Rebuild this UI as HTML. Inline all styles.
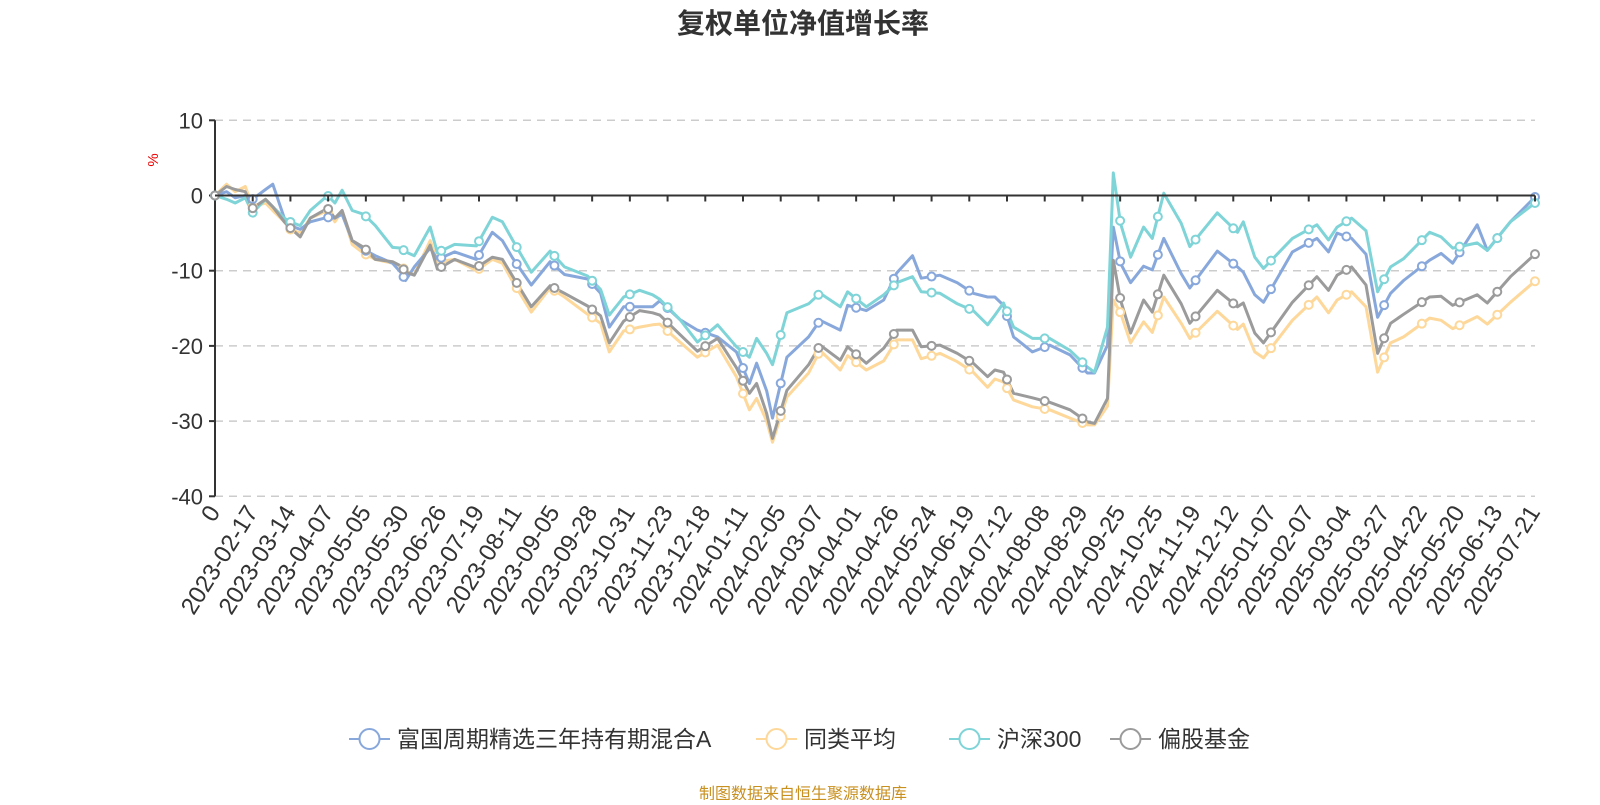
<!DOCTYPE html>
<html><head><meta charset="utf-8">
<style>
body{margin:0;background:#fff;}
svg text{font-family:"Liberation Sans","Noto Sans CJK SC",sans-serif;}
</style></head>
<body>
<svg id="chart" width="1600" height="800" viewBox="0 0 1600 800" xmlns="http://www.w3.org/2000/svg">
<text x="803" y="33" text-anchor="middle" font-size="28" font-weight="bold" fill="#333">复权单位净值增长率</text>
<text x="158" y="160" font-size="15" fill="#e00" text-anchor="middle" transform="rotate(-90 158 160)">%</text>
<g id="grid"></g>
<g id="series"></g>
<g id="xaxis"></g>
<g id="legend"></g>
<text x="803" y="799" text-anchor="middle" font-size="16" fill="#c8901f">制图数据来自恒生聚源数据库</text>
</svg>
<script>
const xLabels=["0","2023-02-17","2023-03-14","2023-04-07","2023-05-05","2023-05-30","2023-06-26","2023-07-19","2023-08-11","2023-09-05","2023-09-28","2023-10-31","2023-11-23","2023-12-18","2024-01-11","2024-02-05","2024-03-07","2024-04-01","2024-04-26","2024-05-24","2024-06-19","2024-07-12","2024-08-08","2024-08-29","2024-09-25","2024-10-25","2024-11-19","2024-12-12","2025-01-07","2025-02-07","2025-03-04","2025-03-27","2025-04-22","2025-05-20","2025-06-13","2025-07-21"];
const yTicks=[10,0,-10,-20,-30,-40];
const days=[0,8,14,21,26,35,40,48,52,59,66,78,83,88,95,103,111,123,129,132,138,149,154,166,181,192,199,206,219,232,242,258,267,273,283,294,303,308,322,334,348,361,370,375,382,386,396,411,419,433,438,451,463,472,483,489,502,514,525,535,540,546,553,566,578,592,604,609,618,622,627,634,643,649,657,669,675,694,708,712,720,726,746,763,771,777,787,797,805,814,823,841,849,857,874,881,897,914];
const fundValues=[0,0.5,-0.3,0,-0.5,0.8,1.5,-3,-4,-4.5,-3.5,-2.9,-3,-2.5,-6,-7.2,-8,-9,-10.3,-11.3,-9.5,-7,-8.5,-7.5,-8.5,-4.9,-6,-8.3,-11.9,-8.8,-10.5,-11.1,-13,-17.5,-14.8,-14.8,-14.8,-14,-16.5,-17.9,-18.8,-20.8,-25,-22.3,-26,-29.6,-21.5,-18.8,-16.6,-17.9,-14.6,-15.3,-13.9,-10.3,-8,-11,-10.6,-11.6,-13,-13.5,-13.5,-14.6,-18.8,-20.8,-19.9,-21.2,-23.6,-23.6,-19.9,-4.2,-9,-11.6,-9.4,-9.9,-5.7,-10.4,-12.3,-7.4,-9.5,-10.2,-13.2,-14.2,-7.5,-5.7,-7.5,-5,-5.7,-7.8,-16.2,-13,-11.3,-8.6,-7.7,-9,-3.9,-7.3,-3.5,-0.2];
const peerValues=[0,1.5,0.5,1.2,-1.5,-1,-2,-3.5,-4.5,-5,-3,-2,-3.5,-2,-6.5,-7.7,-8.5,-9,-9.4,-10,-10.5,-6,-8.8,-8.5,-10,-8.5,-9,-11.4,-15.5,-12.3,-13.5,-15.8,-17,-20.8,-18,-17.5,-17.2,-17.1,-19.5,-21.5,-19.9,-24.1,-28.5,-27,-30,-32.8,-26.8,-23.6,-20.6,-23.2,-21.3,-23.2,-22,-19.2,-19.2,-21.7,-21,-22.1,-23.5,-25.5,-24.4,-24.8,-27.2,-28.1,-28.5,-29.6,-30.5,-30.5,-28,-13.9,-15.6,-19.6,-16.8,-18.2,-13.5,-17,-19,-15.4,-17.8,-17.1,-20.8,-21.6,-16.6,-13.5,-15.6,-13.9,-12.8,-14.8,-23.5,-19.6,-18.8,-16.3,-16.6,-17.7,-16.1,-17.1,-14.2,-11.4];
const hs300Values=[0,-0.5,-1,-0.3,-2.3,-0.5,-1.5,-3,-3.5,-4,-2,0,-1,0.7,-2,-2.5,-4,-6.9,-7,-7.5,-8,-4.2,-7.6,-6.5,-6.7,-2.9,-3.5,-5.9,-10.2,-7.4,-9.5,-10.7,-12.5,-15.9,-13.5,-12.6,-13.2,-13.8,-16.5,-19.5,-17.2,-20.1,-21.5,-19,-21,-22.5,-15.6,-14.4,-13,-14.8,-12.8,-14.8,-13.2,-11.6,-10.8,-12.8,-13,-14.4,-15.3,-17.2,-15.9,-14.3,-17.5,-19,-19,-20.6,-22.8,-23.5,-17.5,3,-3.7,-8.2,-4.2,-5.7,0.3,-3.7,-6.8,-2.3,-4.9,-3.5,-8.2,-9.7,-5.7,-3.9,-5.9,-4.2,-3,-4.7,-12.8,-9.5,-8.4,-4.9,-5.5,-7,-6.3,-7.3,-3.5,-1];
const equityFundValues=[0,1.2,0.8,0.5,-1.7,-0.5,-1.5,-3.5,-4.3,-5.5,-3,-1.7,-3,-2,-6,-6.9,-8.5,-8.8,-9.4,-10.2,-10.6,-6.6,-9.8,-8.5,-9.6,-8.2,-8.5,-10.7,-14.8,-12,-13,-14.7,-16,-19.6,-16.7,-15.3,-15.6,-15.9,-18.5,-20.7,-19,-22.9,-26.3,-25,-29,-32.3,-25.9,-22.5,-19.9,-21.9,-20.1,-22.3,-20.3,-17.9,-17.9,-20.1,-19.9,-21,-22.3,-24.1,-23.2,-23.5,-26.3,-26.9,-27.5,-28.5,-30.1,-30.3,-27,-8.6,-13.9,-18.3,-13.9,-15.5,-10.6,-14.4,-17,-12.6,-14.8,-14.3,-18.3,-19.6,-14.2,-10.8,-12.6,-10.6,-9.5,-11.9,-21,-17,-15.8,-13.5,-13.4,-14.6,-13.2,-14.3,-10.8,-7.8];
const seriesNames=["富国周期精选三年持有期混合A","同类平均","沪深300","偏股基金"];

const NS="http://www.w3.org/2000/svg";
const X0=215,X1=1535,Y_ZERO=195.5,PX_PER_UNIT=7.52;
const totalDays=days[days.length-1];
function xScale(d){return X0+(X1-X0)*d/totalDays;}
function yScale(v){return Y_ZERO-PX_PER_UNIT*v;}
function mk(tag,attrs,parent){const e=document.createElementNS(NS,tag);for(const k in attrs)e.setAttribute(k,attrs[k]);parent.appendChild(e);return e;}

const grid=document.getElementById('grid');
yTicks.forEach(t=>{
  const y=yScale(t);
  if(t!==0){
    const gl=mk('line',{x1:X0,x2:X1,y1:y,y2:y,stroke:'#ccc','stroke-width':1.5,'stroke-dasharray':'8,6'},grid);
    
    
  }
  const tk=mk('line',{x1:X0-6,x2:X0,y1:y,y2:y,stroke:'#333','stroke-width':2},grid);
  
  
  const lb=mk('text',{x:X0-12,y:y+8,'text-anchor':'end','font-size':22,fill:'#333'},grid);
  
  
  lb.textContent=t;
});
const yAxis=mk('line',{x1:X0,x2:X0,y1:yScale(10),y2:yScale(-40),stroke:'#333','stroke-width':2},grid);



const xa=document.getElementById('xaxis');
const zl=mk('line',{x1:X0,x2:X1,y1:yScale(0),y2:yScale(0),stroke:'#333','stroke-width':2},xa);


const step=(X1-X0)/(xLabels.length-1);
xLabels.forEach((l,i)=>{
  const x=X0+i*step;
  if(i>0){
    const t=mk('line',{x1:x,x2:x,y1:yScale(0),y2:yScale(0)+6,stroke:'#333','stroke-width':2},xa);
    
    
  }
  const tx=mk('text',{x:x+6,y:512,'text-anchor':'end','font-size':24,fill:'#333',transform:`rotate(-58 ${x+6} 512)`},xa);
  
  
  tx.textContent=l;
});

const colors=["#88a8dc","#fdd89a","#7fd4d8","#9b9b9b"];
const allSeries=[fundValues,peerValues,hs300Values,equityFundValues];
const sg=document.getElementById('series');
function interp(vals,d){
  for(let i=1;i<days.length;i++){if(d<=days[i]){const f=(d-days[i-1])/(days[i]-days[i-1]);return vals[i-1]+f*(vals[i]-vals[i-1]);}}
  return vals[vals.length-1];
}
[1,0,2,3].forEach(si=>{
  const vals=allSeries[si];
  const pts=vals.map((v,i)=>xScale(days[i]).toFixed(1)+','+yScale(v).toFixed(1)).join(' ');
  const pl=mk('polyline',{points:pts,fill:'none',stroke:colors[si],'stroke-width':3,'stroke-linejoin':'round'},sg);
  
  
});
[1,0,2,3].forEach(si=>{
  const vals=allSeries[si];
  xLabels.forEach((l,i)=>{
    const d=i*totalDays/(xLabels.length-1);
    const c=mk('circle',{cx:xScale(d),cy:yScale(interp(vals,d)),r:4,fill:'#fff',stroke:colors[si],'stroke-width':2},sg);
    
    
  });
});

const lg=document.getElementById('legend');
const legendX=[349,756,949,1110];
seriesNames.forEach((n,i)=>{
  const g=mk('g',{},lg);
  
  
  const x=legendX[i],y=739;
  mk('line',{x1:x,x2:x+41,y1:y,y2:y,stroke:colors[i],'stroke-width':2},g);
  mk('circle',{cx:x+20.5,cy:y,r:10,fill:'#fff',stroke:colors[i],'stroke-width':2},g);
  const t=mk('text',{x:x+48,y:y+8,'font-size':23,fill:'#333'},g);
  t.textContent=n;
});
</script>
</body></html>
